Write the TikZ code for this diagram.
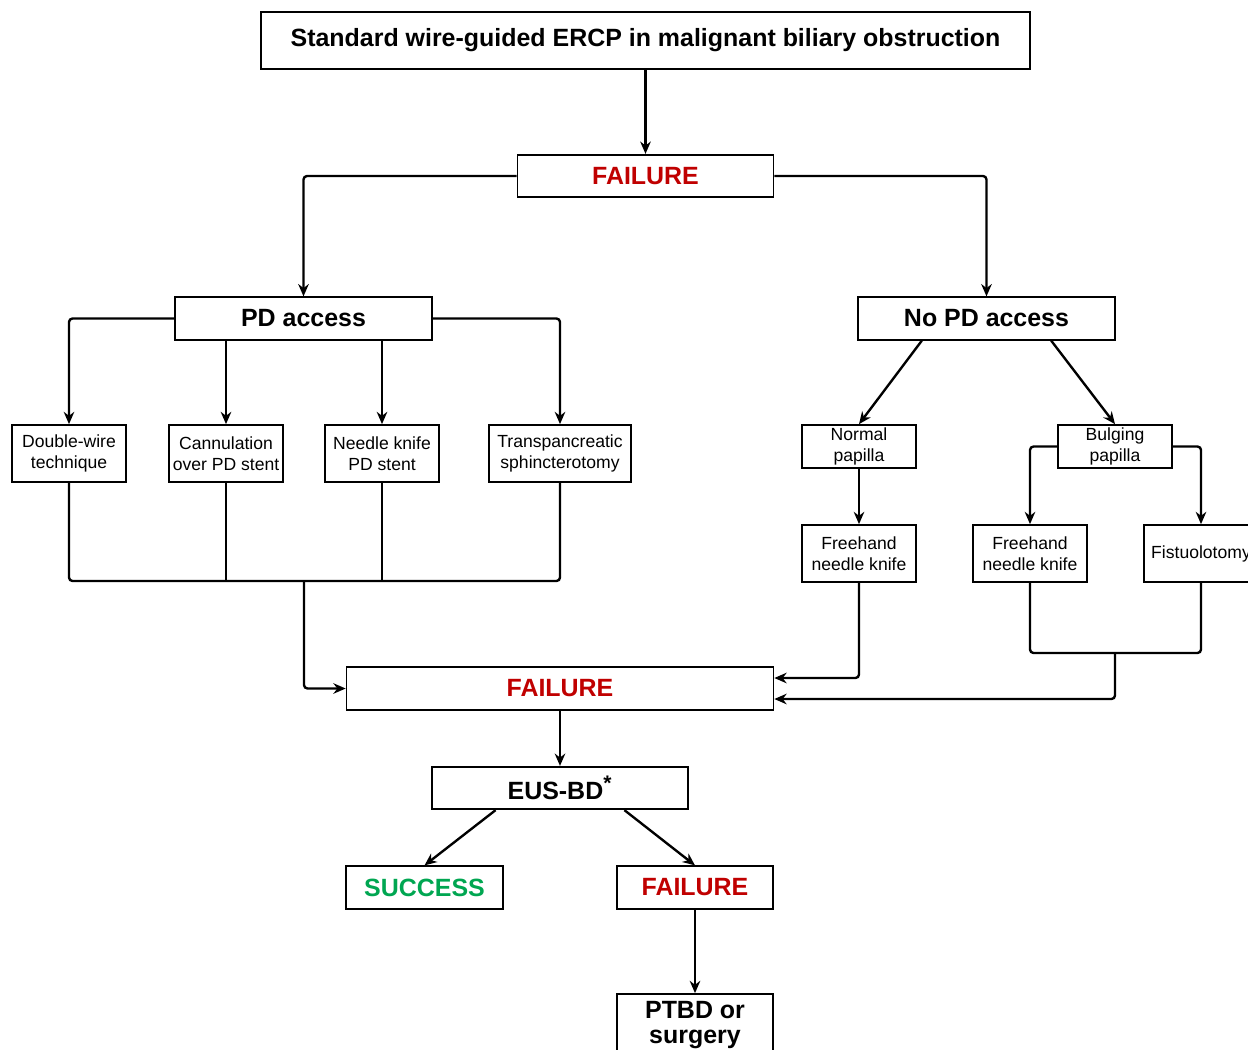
\documentclass[tikz,border=0pt]{standalone}
\usepackage{fontspec}
\setmainfont{Liberation Sans}
\usetikzlibrary{arrows.meta,calc}
\definecolor{failred}{HTML}{C00000}
\definecolor{okgreen}{HTML}{00A651}

\begin{document}
\begin{tikzpicture}[x=0.02cm,y=-0.02cm,
  box/.style={rectangle,draw,line width=1pt,inner sep=0pt,align=center},
  bigbox/.style={box,font=\fontsize{14.2}{14.5}\selectfont\bfseries,minimum height=0.85cm},
  smallbox/.style={box,font=\fontsize{10}{12}\selectfont,minimum width=2.28cm,minimum height=1.14cm},
  link/.style={line width=1.35pt,rounded corners=2pt},
  arr/.style={link,-{Stealth[length=7pt,width=6pt]}}]
\useasboundingbox (0,0) rectangle (1248,1049);
\clip (0,0) rectangle (1248,1049);

\coordinate (T) at (645.5,40.5);
\coordinate (F1) at (645.5,176);
\coordinate (P) at (303.5,318.5);
\coordinate (N) at (986.5,318.5);
\coordinate (A) at (69,453.5);
\coordinate (B) at (226,453.5);
\coordinate (C) at (382,453.5);
\coordinate (D) at (560,453.5);
\coordinate (E) at (859,446.5);
\coordinate (G) at (1115,446.5);
\coordinate (H) at (859,553.5);
\coordinate (I) at (1030,553.5);
\coordinate (L) at (1201,553.5);
\coordinate (J) at (304,581);
\coordinate (K) at (1115,653);
\coordinate (F2) at (560,688.5);
\coordinate (U) at (560,788);
\coordinate (S) at (424.5,887.5);
\coordinate (F3) at (695,887.5);
\coordinate (R) at (695,1025);

\node[bigbox,minimum width=15.38cm,minimum height=1.14cm] (title) at (T) {Standard wire-guided ERCP in malignant biliary obstruction};
\node[bigbox,minimum width=5.12cm,text=failred] (fail1) at (F1) {FAILURE};
\node[bigbox,minimum width=5.14cm] (pd) at (P) {PD access};
\node[bigbox,minimum width=5.14cm] (nopd) at (N) {No PD access};

\node[smallbox] (dw) at (A) {Double-wire\\technique};
\node[smallbox] (cann) at (B) {Cannulation\\over PD stent};
\node[smallbox] (nk) at (C) {Needle knife\\PD stent};
\node[smallbox,minimum width=2.84cm] (tp) at (D) {Transpancreatic\\sphincterotomy};

\node[smallbox,minimum height=0.86cm] (np) at (E) {Normal\\papilla};
\node[smallbox,minimum height=0.86cm] (bp) at (G) {Bulging\\papilla};
\node[smallbox] (fh1) at (H) {Freehand\\needle knife};
\node[smallbox] (fh2) at (I) {Freehand\\needle knife};
\node[smallbox] (fis) at (L) {Fistuolotomy};

\node[bigbox,minimum width=8.54cm,text=failred] (fail2) at (F2) {FAILURE};
\node[bigbox,minimum width=5.12cm] (eus) at (U) {EUS-BD\textsuperscript{\large *}};
\node[bigbox,minimum width=3.14cm,text=okgreen] (succ) at (S) {SUCCESS};
\node[bigbox,minimum width=3.12cm,text=failred] (fail3) at (F3) {FAILURE};
\node[bigbox,minimum width=3.12cm,minimum height=1.24cm] (ptbd) at (R) {PTBD or\\surgery};

\draw[arr] (title) -- (fail1);
\draw[arr] (fail1.west) -| (pd.north);
\draw[arr] (fail1.east) -| (nopd.north);

\draw[arr] (pd.west) -| (dw.north);
\draw[arr] (pd.south -| cann.north) -- (cann.north);
\draw[arr] (pd.south -| nk.north) -- (nk.north);
\draw[arr] (pd.east) -| (tp.north);
\draw[link] (dw.south) |- (tp.south |- J) -- (tp.south);
\draw[link] (cann.south) -- (cann.south |- J);
\draw[link] (nk.south) -- (nk.south |- J);
\draw[arr] (J) |- (fail2.west);

\draw[arr] ($(nopd.south)!0.5!(nopd.south west)$) -- (np.north);
\draw[arr] ($(nopd.south)!0.5!(nopd.south east)$) -- (bp.north);
\draw[arr] (np) -- (fh1);
\draw[arr] (bp.west) -| (fh2.north);
\draw[arr] (bp.east) -| (fis.north);
\draw[arr] (fh1.south) |- ([yshift=0.21cm]fail2.east);
\draw[link] (fh2.south) |- (fis.south |- K) -- (fis.south);
\draw[arr] (K) |- ([yshift=-0.21cm]fail2.east);

\draw[arr] (fail2) -- (eus);
\draw[arr] ($(eus.south)!0.5!(eus.south west)$) -- (succ.north);
\draw[arr] ($(eus.south)!0.5!(eus.south east)$) -- (fail3.north);
\draw[arr] (fail3) -- (ptbd);

\end{tikzpicture}
\end{document}
